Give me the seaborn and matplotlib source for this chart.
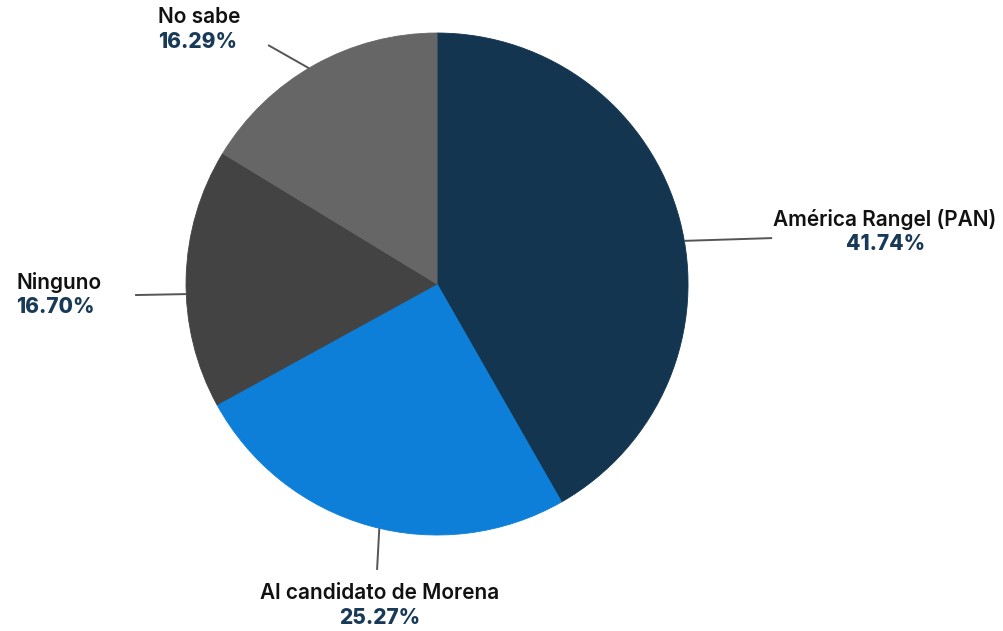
import numpy as np
import seaborn as sns
import matplotlib.pyplot as plt

labels = ["América Rangel (PAN)", "Al candidato de Morena", "Ninguno", "No sabe"]
shares = [41.74, 25.27, 16.70, 16.29]
colors = ["#13354f", "#0d7fd9", "#434343", "#666666"]

sns.set_theme(style="white")
plt.rcParams['font.family'] = ['Inter', 'DejaVu Sans']

fig = plt.figure(figsize=(10.04, 6.31), dpi=100)
ax = fig.add_axes([0.1853, 0.1521, 0.5, 0.7956])

wedges, _ = ax.pie(shares, colors=colors, startangle=90, counterclock=False,
                   radius=1.0, wedgeprops=dict(linewidth=0.6))
# hide seams between slices
for w, c in zip(wedges, colors):
    w.set_edgecolor(c)
ax.set_xlim(-1, 1)
ax.set_ylim(-1, 1)
ax.set_aspect('equal')
ax.axis('off')

# leader lines: start angle on the rim, end point, label anchor (layout only)
line_angles = [9.9, -103.3, 182.3, 120.7]
line_ends = [(1.335, 0.183), (-0.239, -1.139), (-1.203, -0.044), (-0.673, 0.952)]
label_pos = [(1.785, 0.259, 'center'), (-0.227, -1.231, 'center'),
             (-1.677, 0.008, 'left'), (-1.112, 1.064, 'left')]

for lab, val, ang, end, (tx, ty, ha) in zip(labels, shares, line_angles, line_ends, label_pos):
    a = np.deg2rad(ang)
    x0, y0 = np.cos(a), np.sin(a)
    ax.plot([x0, end[0]], [y0, end[1]], color="#555555", lw=1.4,
            clip_on=False, solid_capstyle='butt')
    ax.text(tx, ty, lab, ha=ha, va='center', fontsize=15,
            fontweight='semibold', color='#111111', clip_on=False)
    ax.text(tx, ty - 0.1, f"{val:.2f}%", ha=ha, va='center', fontsize=15,
            fontweight='heavy', color='#183a58', clip_on=False)

plt.savefig('out.png', dpi=100, facecolor='white')
